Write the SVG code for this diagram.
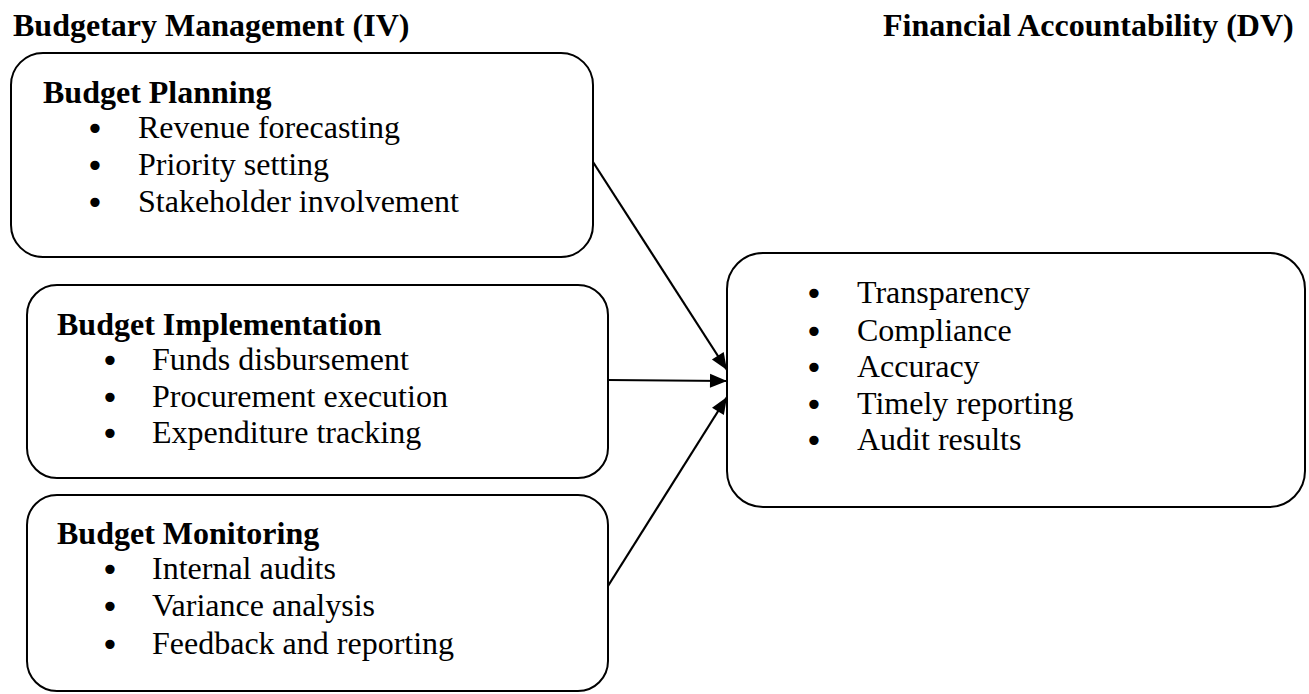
<svg xmlns="http://www.w3.org/2000/svg" width="1309" height="694" viewBox="0 0 1309 694">
<defs>
<style>
.box{fill:#fff;stroke:#000;stroke-width:2}
.t{font-family:"Liberation Serif","Times New Roman",serif;font-size:32px;fill:#000}
.b{font-weight:bold}
.d{font-family:"DejaVu Sans",sans-serif;font-size:32px;fill:#000;text-anchor:middle}
.c{stroke:#000;stroke-width:2.2;fill:none}
</style>
<marker id="arr" markerUnits="userSpaceOnUse" markerWidth="20" markerHeight="20" viewBox="0 0 20 20" refX="18" refY="10" orient="auto">
<path d="M1,3 L18,10 L1,17 Z" fill="#000"/>
</marker>
</defs>
<rect width="1309" height="694" fill="#fff"/>
<text class="t b" x="13" y="36">Budgetary Management (IV)</text>
<text class="t b" x="883" y="36">Financial Accountability (DV)</text>
<g id="planning">
<rect class="box" x="11" y="53" width="582" height="204" rx="32" ry="32"/>
<text class="t b" x="43" y="103">Budget Planning</text>
<g class="d"><text x="95" y="140">•</text><text x="95" y="177">•</text><text x="95" y="214">•</text></g>
<g class="t"><text x="138" y="138">Revenue forecasting</text>
<text x="138" y="175">Priority setting</text>
<text x="138" y="212">Stakeholder involvement</text></g>
</g>
<g id="implementation">
<rect class="box" x="27" y="285" width="581" height="193" rx="30" ry="30"/>
<text class="t b" x="57" y="335">Budget Implementation</text>
<g class="d"><text x="110" y="372">•</text><text x="110" y="409">•</text><text x="110" y="445">•</text></g>
<g class="t"><text x="152" y="370">Funds disbursement</text>
<text x="152" y="407">Procurement execution</text>
<text x="152" y="443">Expenditure tracking</text></g>
</g>
<g id="monitoring">
<rect class="box" x="27" y="495" width="581" height="196" rx="30" ry="30"/>
<text class="t b" x="57" y="544">Budget Monitoring</text>
<g class="d"><text x="110" y="581">•</text><text x="110" y="618">•</text><text x="110" y="656">•</text></g>
<g class="t"><text x="152" y="579">Internal audits</text>
<text x="152" y="616">Variance analysis</text>
<text x="152" y="654">Feedback and reporting</text></g>
</g>
<g id="accountability">
<rect class="box" x="727" y="253" width="578" height="254" rx="36" ry="36"/>
<g class="d"><text x="814" y="305">•</text><text x="814" y="343">•</text><text x="814" y="379">•</text><text x="814" y="416">•</text><text x="814" y="452">•</text></g>
<g class="t"><text x="857" y="303">Transparency</text>
<text x="857" y="341">Compliance</text>
<text x="857" y="377">Accuracy</text>
<text x="857" y="414">Timely reporting</text>
<text x="857" y="450">Audit results</text></g>
</g>
<g id="connectors">
<line class="c" x1="593" y1="162" x2="727" y2="370" marker-end="url(#arr)"/>
<line class="c" x1="608" y1="380" x2="727" y2="381" marker-end="url(#arr)"/>
<line class="c" x1="608" y1="586" x2="727" y2="397" marker-end="url(#arr)"/>
</g>
</svg>
